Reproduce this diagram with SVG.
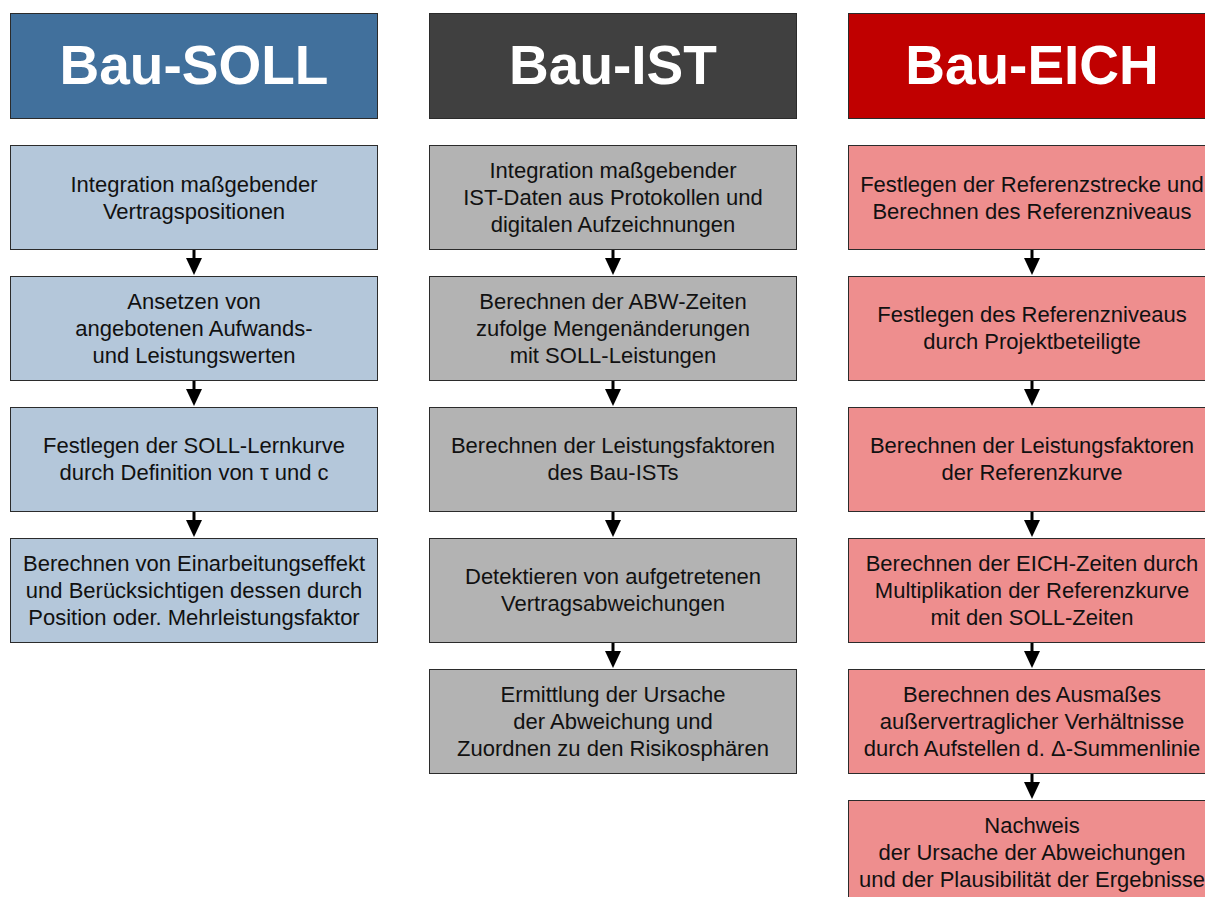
<svg xmlns="http://www.w3.org/2000/svg" width="1205" height="897" viewBox="0 0 1205 897">
<defs>
<style>
text{font-family:"Liberation Sans",Arial,sans-serif;text-anchor:middle}
.hd{font-size:55px;font-weight:bold;fill:#fff}
.tx{font-size:22px;fill:#111}
.box{stroke:#2b2b2b;stroke-width:1}
.soll-h{fill:#41709C}.ist-h{fill:#404040}.eich-h{fill:#C00000}
.soll{fill:#B4C7DA}.ist{fill:#B3B3B3}.eich{fill:#EE8E8E}
.arr{stroke:#000;stroke-width:3;fill:none;marker-end:url(#ah)}
</style>
<marker id="ah" viewBox="0 0 17 16" refX="0" refY="8" markerWidth="17" markerHeight="16" markerUnits="userSpaceOnUse" orient="auto"><path d="M0,0 L17,8 L0,16 z" fill="#000"/></marker>
</defs>
<rect width="1205" height="897" fill="#fff"/>

<g id="soll-header"><rect class="box soll-h" x="10.5" y="13.5" width="367" height="105"/><text class="hd" x="194" y="84">Bau-SOLL</text></g>
<g id="ist-header"><rect class="box ist-h" x="429.5" y="13.5" width="367" height="105"/><text class="hd" x="613" y="84">Bau-IST</text></g>
<g id="eich-header"><rect class="box eich-h" x="848.5" y="13.5" width="367" height="105"/><text class="hd" x="1032" y="84">Bau-EICH</text></g>

<g id="soll1"><rect class="box soll" x="10.5" y="145.5" width="367" height="104"/><text class="tx" x="194" y="191.5"><tspan x="194">Integration maßgebender</tspan><tspan x="194" dy="27">Vertragspositionen</tspan></text></g>
<g id="soll2"><rect class="box soll" x="10.5" y="276.5" width="367" height="104"/><text class="tx" x="194" y="308.5"><tspan x="194">Ansetzen von</tspan><tspan x="194" dy="27">angebotenen Aufwands-</tspan><tspan x="194" dy="27">und Leistungswerten</tspan></text></g>
<g id="soll3"><rect class="box soll" x="10.5" y="407.5" width="367" height="104"/><text class="tx" x="194" y="453"><tspan x="194">Festlegen der SOLL-Lernkurve</tspan><tspan x="194" dy="27">durch Definition von τ und c</tspan></text></g>
<g id="soll4"><rect class="box soll" x="10.5" y="538.5" width="367" height="104"/><text class="tx" x="194" y="570.5"><tspan x="194">Berechnen von Einarbeitungseffekt</tspan><tspan x="194" dy="27">und Berücksichtigen dessen durch</tspan><tspan x="194" dy="27">Position oder. Mehrleistungsfaktor</tspan></text></g>

<g id="ist1"><rect class="box ist" x="429.5" y="145.5" width="367" height="104"/><text class="tx" x="613" y="177.5"><tspan x="613">Integration maßgebender</tspan><tspan x="613" dy="27">IST-Daten aus Protokollen und</tspan><tspan x="613" dy="27">digitalen Aufzeichnungen</tspan></text></g>
<g id="ist2"><rect class="box ist" x="429.5" y="276.5" width="367" height="104"/><text class="tx" x="613" y="308.5"><tspan x="613">Berechnen der ABW-Zeiten</tspan><tspan x="613" dy="27">zufolge Mengenänderungen</tspan><tspan x="613" dy="27">mit SOLL-Leistungen</tspan></text></g>
<g id="ist3"><rect class="box ist" x="429.5" y="407.5" width="367" height="104"/><text class="tx" x="613" y="453"><tspan x="613">Berechnen der Leistungsfaktoren</tspan><tspan x="613" dy="27">des Bau-ISTs</tspan></text></g>
<g id="ist4"><rect class="box ist" x="429.5" y="538.5" width="367" height="104"/><text class="tx" x="613" y="584"><tspan x="613">Detektieren von aufgetretenen</tspan><tspan x="613" dy="27">Vertragsabweichungen</tspan></text></g>
<g id="ist5"><rect class="box ist" x="429.5" y="669.5" width="367" height="104"/><text class="tx" x="613" y="701.5"><tspan x="613">Ermittlung der Ursache</tspan><tspan x="613" dy="27">der Abweichung und</tspan><tspan x="613" dy="27">Zuordnen zu den Risikosphären</tspan></text></g>

<g id="eich1"><rect class="box eich" x="848.5" y="145.5" width="367" height="104"/><text class="tx" x="1032" y="191.5"><tspan x="1032">Festlegen der Referenzstrecke und</tspan><tspan x="1032" dy="27">Berechnen des Referenzniveaus</tspan></text></g>
<g id="eich2"><rect class="box eich" x="848.5" y="276.5" width="367" height="104"/><text class="tx" x="1032" y="322"><tspan x="1032">Festlegen des Referenzniveaus</tspan><tspan x="1032" dy="27">durch Projektbeteiligte</tspan></text></g>
<g id="eich3"><rect class="box eich" x="848.5" y="407.5" width="367" height="104"/><text class="tx" x="1032" y="453"><tspan x="1032">Berechnen der Leistungsfaktoren</tspan><tspan x="1032" dy="27">der Referenzkurve</tspan></text></g>
<g id="eich4"><rect class="box eich" x="848.5" y="538.5" width="367" height="104"/><text class="tx" x="1032" y="570.5"><tspan x="1032">Berechnen der EICH-Zeiten durch</tspan><tspan x="1032" dy="27">Multiplikation der Referenzkurve</tspan><tspan x="1032" dy="27">mit den SOLL-Zeiten</tspan></text></g>
<g id="eich5"><rect class="box eich" x="848.5" y="669.5" width="367" height="104"/><text class="tx" x="1032" y="701.5"><tspan x="1032">Berechnen des Ausmaßes</tspan><tspan x="1032" dy="27">außervertraglicher Verhältnisse</tspan><tspan x="1032" dy="27">durch Aufstellen d. Δ-Summenlinie</tspan></text></g>
<g id="eich6"><rect class="box eich" x="848.5" y="800.5" width="367" height="104"/><text class="tx" x="1032" y="832.5"><tspan x="1032">Nachweis</tspan><tspan x="1032" dy="27">der Ursache der Abweichungen</tspan><tspan x="1032" dy="27">und der Plausibilität der Ergebnisse</tspan></text></g>

<g id="connectors">
<line class="arr" x1="194" y1="250" x2="194" y2="258"/>
<line class="arr" x1="194" y1="381" x2="194" y2="389"/>
<line class="arr" x1="194" y1="512" x2="194" y2="520"/>
<line class="arr" x1="613" y1="250" x2="613" y2="258"/>
<line class="arr" x1="613" y1="381" x2="613" y2="389"/>
<line class="arr" x1="613" y1="512" x2="613" y2="520"/>
<line class="arr" x1="613" y1="643" x2="613" y2="651"/>
<line class="arr" x1="1032" y1="250" x2="1032" y2="258"/>
<line class="arr" x1="1032" y1="381" x2="1032" y2="389"/>
<line class="arr" x1="1032" y1="512" x2="1032" y2="520"/>
<line class="arr" x1="1032" y1="643" x2="1032" y2="651"/>
<line class="arr" x1="1032" y1="774" x2="1032" y2="782"/>
</g>
</svg>
